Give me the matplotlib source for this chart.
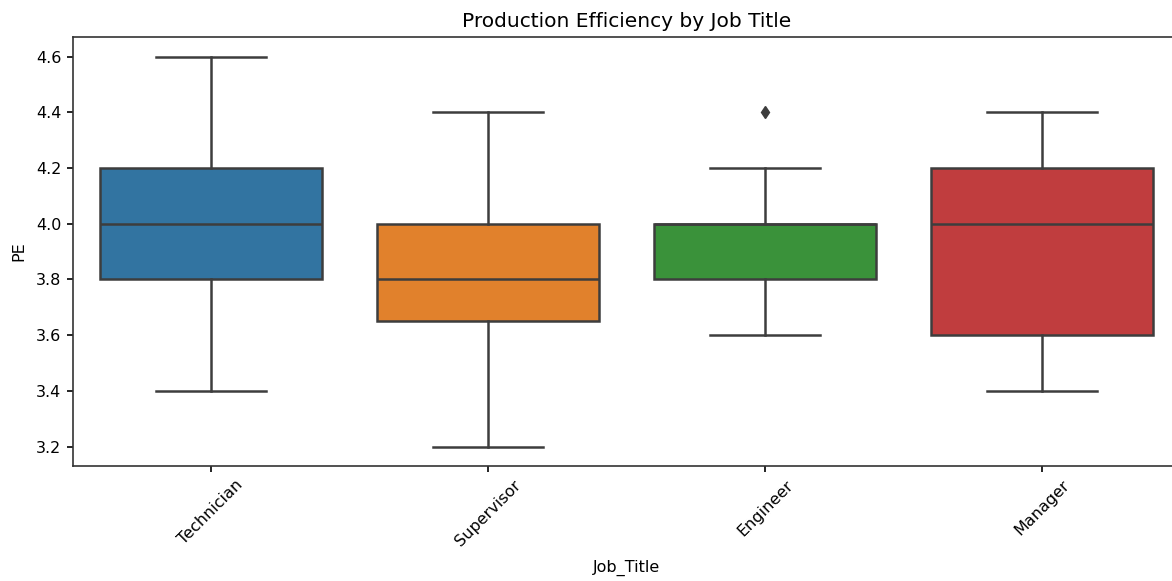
import matplotlib
matplotlib.use("Agg")
import matplotlib.pyplot as plt

categories = ["Technician", "Supervisor", "Engineer", "Manager"]
whislo = [3.4, 3.2, 3.6, 3.4]
q1 = [3.8, 3.65, 3.8, 3.6]
med = [4.0, 3.8, 4.0, 4.0]
q3 = [4.2, 4.0, 4.0, 4.2]
whishi = [4.6, 4.4, 4.2, 4.4]
fliers = [[], [], [4.4], []]
colors = ["#3274a1", "#e1812c", "#3a923a", "#c03d3e"]

fig = plt.figure(figsize=(11.72, 5.81), dpi=100)
ax = fig.add_axes([0.0619, 0.1979, 0.9454, 0.7384])

stats = []
for i, c in enumerate(categories):
    stats.append(dict(label=c, whislo=whislo[i], q1=q1[i], med=med[i],
                      q3=q3[i], whishi=whishi[i], fliers=fliers[i]))

edge = "#3d3d3d"
lw = 1.8
bp = ax.bxp(stats, positions=range(len(categories)), widths=0.8, patch_artist=True,
            boxprops=dict(edgecolor=edge, linewidth=lw),
            medianprops=dict(color=edge, linewidth=lw),
            whiskerprops=dict(color=edge, linewidth=lw),
            capprops=dict(color=edge, linewidth=lw),
            capwidths=0.4,
            flierprops=dict(marker="d", markerfacecolor=edge, markeredgecolor=edge,
                            markersize=6, linestyle="none"))
for patch, col in zip(bp["boxes"], colors):
    patch.set_facecolor(col)

for s in ax.spines.values():
    s.set_linewidth(1.2)
    s.set_color("#333333")
ax.tick_params(labelsize=11.5, width=1.2, length=4.5)

ax.set_xlim(-0.5, 3.5)
ax.set_ylim(3.13, 4.67)
ax.set_xticks(range(len(categories)))
ax.set_xticklabels(categories, rotation=45)
ax.set_xlabel("Job_Title", fontsize=11.5, labelpad=8)
ax.set_ylabel("PE", fontsize=11.5, labelpad=7)
ax.set_title("Production Efficiency by Job Title", fontsize=14.5, pad=7)

fig.savefig("out.png", dpi=100)
